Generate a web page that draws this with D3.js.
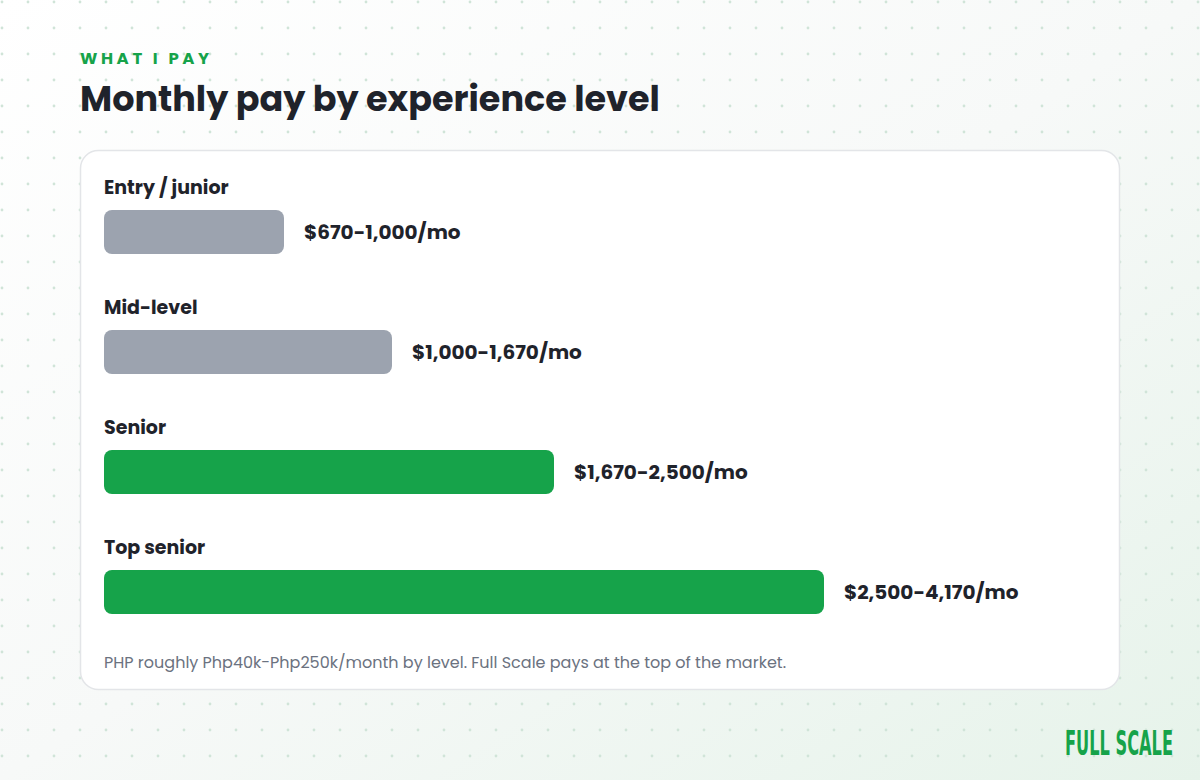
<!DOCTYPE html>
<html><head><meta charset="utf-8">
<script src="https://cdn.jsdelivr.net/npm/d3@7/dist/d3.min.js"></script>
<style>body{margin:0}svg{display:block}</style></head>
<body><svg id="c" width="1200" height="780"></svg>
<script>
const levels = ["Entry / junior","Mid-level","Senior","Top senior"];
const payLabels = ["$670-1,000/mo","$1,000-1,670/mo","$1,670-2,500/mo","$2,500-4,170/mo"];
const barShare = [25, 40, 62.5, 100];
const barColors = ["#9ca3af","#9ca3af","#16a34a","#16a34a"];

const svg = d3.select("#c");
const defs = svg.append("defs");
const g = defs.append("linearGradient").attr("id","bg").attr("x1","0").attr("y1","0").attr("x2","1").attr("y2","1");
g.append("stop").attr("offset","0").attr("stop-color","#ffffff");
g.append("stop").attr("offset","0.5").attr("stop-color","#f7f9f8");
g.append("stop").attr("offset","1").attr("stop-color","#e6f3ea");
const pat = defs.append("pattern").attr("id","dots").attr("width",26).attr("height",26).attr("patternUnits","userSpaceOnUse").attr("x",-11).attr("y",-11);
pat.append("circle").attr("cx",13).attr("cy",13).attr("r",1.4).attr("fill","#d0e4d8");
svg.append("rect").attr("width",1200).attr("height",780).attr("fill","url(#bg)");
svg.append("rect").attr("width",1200).attr("height",780).attr("fill","url(#dots)");

const font = "Poppins, Inter, 'Noto Sans', sans-serif";
svg.append("text").attr("x",80).attr("y",64).attr("fill","#16a34a").attr("font-family",font)
  .attr("font-weight",700).attr("font-size",16.5).attr("letter-spacing",3.6).text("WHAT I PAY");
svg.append("text").attr("x",80).attr("y",111).attr("fill","#1f232b").attr("font-family",font)
  .attr("font-weight",700).attr("font-size",35).attr("letter-spacing",0).text("Monthly pay by experience level");

svg.append("rect").attr("x",80.5).attr("y",150.5).attr("width",1039).attr("height",539).attr("rx",18)
  .attr("fill","#fff").attr("stroke","#e3e5e8").attr("stroke-width",1.5);

const x = d3.scaleLinear().domain([0,100]).range([104,824]);
const y = d3.scaleBand().domain(levels).range([170,650]).paddingInner(0);

const rows = svg.selectAll("g.row").data(levels).join("g").attr("class","row")
  .attr("transform", d => `translate(0,${y(d)})`);
rows.append("text").attr("x",104).attr("y",24).attr("font-family",font).attr("font-weight",700)
  .attr("font-size",19).attr("fill","#1f232b").text(d=>d);
rows.append("rect").attr("x",x(0)).attr("y",40).attr("height",44).attr("rx",8)
  .attr("width",(d,i)=>x(barShare[i])-x(0)).attr("fill",(d,i)=>barColors[i]);
rows.append("text").attr("x",(d,i)=>x(barShare[i])+20).attr("y",69).attr("font-family",font)
  .attr("font-weight",700).attr("font-size",20).attr("fill","#1f232b").text((d,i)=>payLabels[i]);

svg.append("text").attr("x",104).attr("y",668).attr("font-family",font).attr("font-size",16)
  .attr("fill","#6b7280").text("PHP roughly Php40k-Php250k/month by level. Full Scale pays at the top of the market.");

svg.append("text").attr("x",1065).attr("y",755).attr("font-family","'DejaVu Sans Condensed', 'Liberation Sans Narrow', sans-serif")
  .attr("font-weight",700).attr("font-size",33).attr("fill","#16a34a")
  .attr("textLength",108).attr("lengthAdjust","spacingAndGlyphs").text("FULL SCALE");
</script></body></html>
